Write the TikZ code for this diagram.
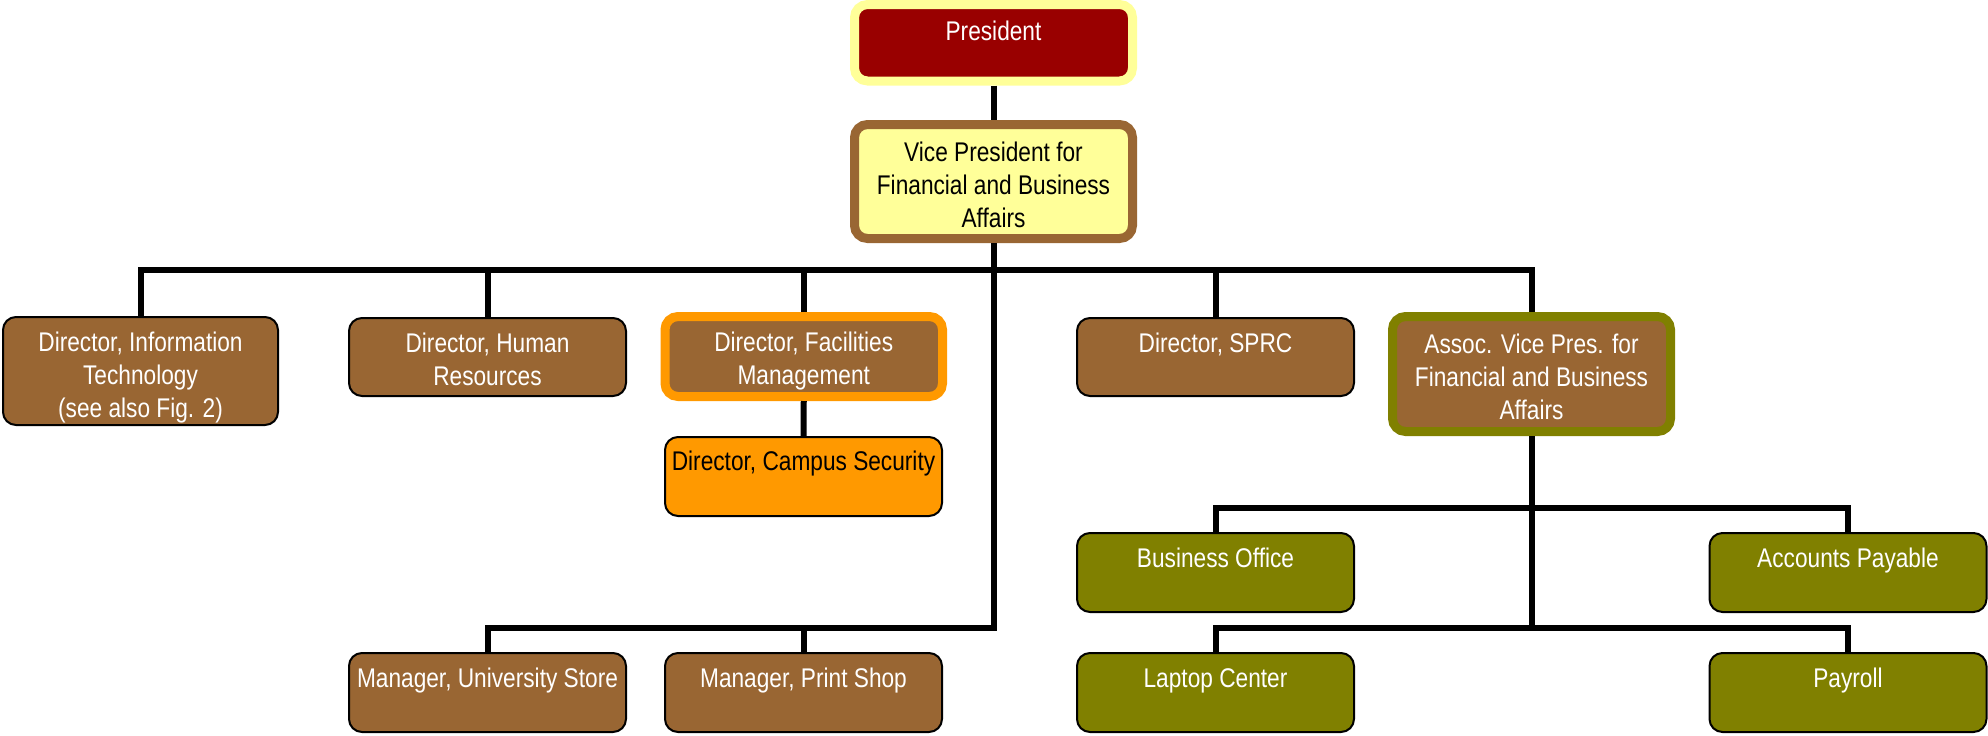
\documentclass[tikz,border=0pt]{standalone}
\usepackage{fontspec}
\setmainfont{Liberation Sans}[FakeStretch=0.84]
\definecolor{cbrown}{HTML}{996633}
\definecolor{colive}{HTML}{808000}
\definecolor{corange}{HTML}{FF9900}
\definecolor{cdred}{HTML}{990000}
\definecolor{cpyel}{HTML}{FFFF99}
\newcommand\bt[4]{\begin{minipage}[c][#2][t]{#1}\centering\rule{0pt}{#3}#4\end{minipage}}
\begin{document}
\begin{tikzpicture}[x=0.5pt,y=-0.5pt,
  conn/.style={line width=3pt, draw=black},
  basebox/.style={inner sep=0pt, rounded corners=6.5pt, font=\fontsize{13.5pt}{16.5pt}\selectfont},
  thinbox/.style={basebox, draw=black, line width=1pt},
  thickbox/.style={basebox, line width=4.5pt},
  brownbox/.style={thinbox, fill=cbrown, text=white},
  olivebox/.style={thinbox, fill=colive, text=white},
  orangebox/.style={thinbox, fill=corange, text=black},
  presbox/.style={thickbox, draw=cpyel, fill=cdred, text=white},
  vpbox/.style={thickbox, draw=cbrown, fill=cpyel, text=black},
  facbox/.style={thickbox, draw=corange, fill=cbrown, text=white},
  assocbox/.style={thickbox, draw=colive, fill=cbrown, text=white}]
\useasboundingbox (0,0) rectangle (1988,735);

% top
\node[presbox] (pres) at (993.5,42.75) {\bt{139pt}{38.25pt}{18pt}{President}};
\node[vpbox] (vp) at (993.5,181.5) {\bt{139pt}{57pt}{18.3pt}{Vice President for\\Financial and Business\\Affairs}};

% second row
\node[brownbox] (it) at (140.5,371) {\bt{137.5pt}{54pt}{17pt}{Director, Information\\Technology\\(see also Fig. 2)}};
\node[brownbox] (hr) at (487.5,357) {\bt{138.5pt}{39pt}{17pt}{Director, Human\\Resources}};
\node[facbox] (fac) at (803.75,356.5) {\bt{138.75pt}{40pt}{17.5pt}{Director, Facilities\\Management}};
\node[brownbox] (sprc) at (1215.5,357) {\bt{138.5pt}{39pt}{17pt}{Director, SPRC}};
\node[assocbox] (assoc) at (1531.5,374) {\bt{139pt}{57.5pt}{18.6pt}{Assoc. Vice Pres. for\\Financial and Business\\Affairs}};

\node[orangebox] (sec) at (803.5,476.5) {\bt{138.5pt}{39.5pt}{16.5pt}{Director, Campus Security}};

% olive row
\node[olivebox] (bo) at (1215.5,572.5) {\bt{138.5pt}{39.5pt}{17pt}{Business Office}};
\node[olivebox] (ap) at (1848,572.5) {\bt{138.5pt}{39.5pt}{17pt}{Accounts Payable}};

% bottom row
\node[brownbox] (store) at (487.5,692.5) {\bt{138.5pt}{39.5pt}{17pt}{Manager, University Store}};
\node[brownbox] (print) at (803.5,692.5) {\bt{138.5pt}{39.5pt}{17pt}{Manager, Print Shop}};
\node[olivebox] (lap) at (1215.5,692.5) {\bt{138.5pt}{39.5pt}{17pt}{Laptop Center}};
\node[olivebox] (pay) at (1848,692.5) {\bt{138.5pt}{39.5pt}{17pt}{Payroll}};

% buses
\coordinate (busA) at (0,270);
\coordinate (busB) at (0,508);
\coordinate (busM) at (0,628);

\draw[conn] (pres.south) -- (vp.north);
\draw[conn] (it.north) |- (assoc.north |- busA) -- (assoc.north);
\draw[conn] (hr.north) -- (hr.north |- busA);
\draw[conn] (fac.north) -- (fac.north |- busA);
\draw[conn] (sprc.north) -- (sprc.north |- busA);
\draw[conn] (vp.south) -- (vp.south |- busM) -| (store.north);
\draw[conn] (print.north) -- (print.north |- busM);
\draw[conn] (fac.south) -- (sec.north);
\draw[conn] (assoc.south) -- (assoc.south |- busM);
\draw[conn] (bo.north) |- (ap.north |- busB) -- (ap.north);
\draw[conn] (lap.north) |- (pay.north |- busM) -- (pay.north);
\end{tikzpicture}
\end{document}
